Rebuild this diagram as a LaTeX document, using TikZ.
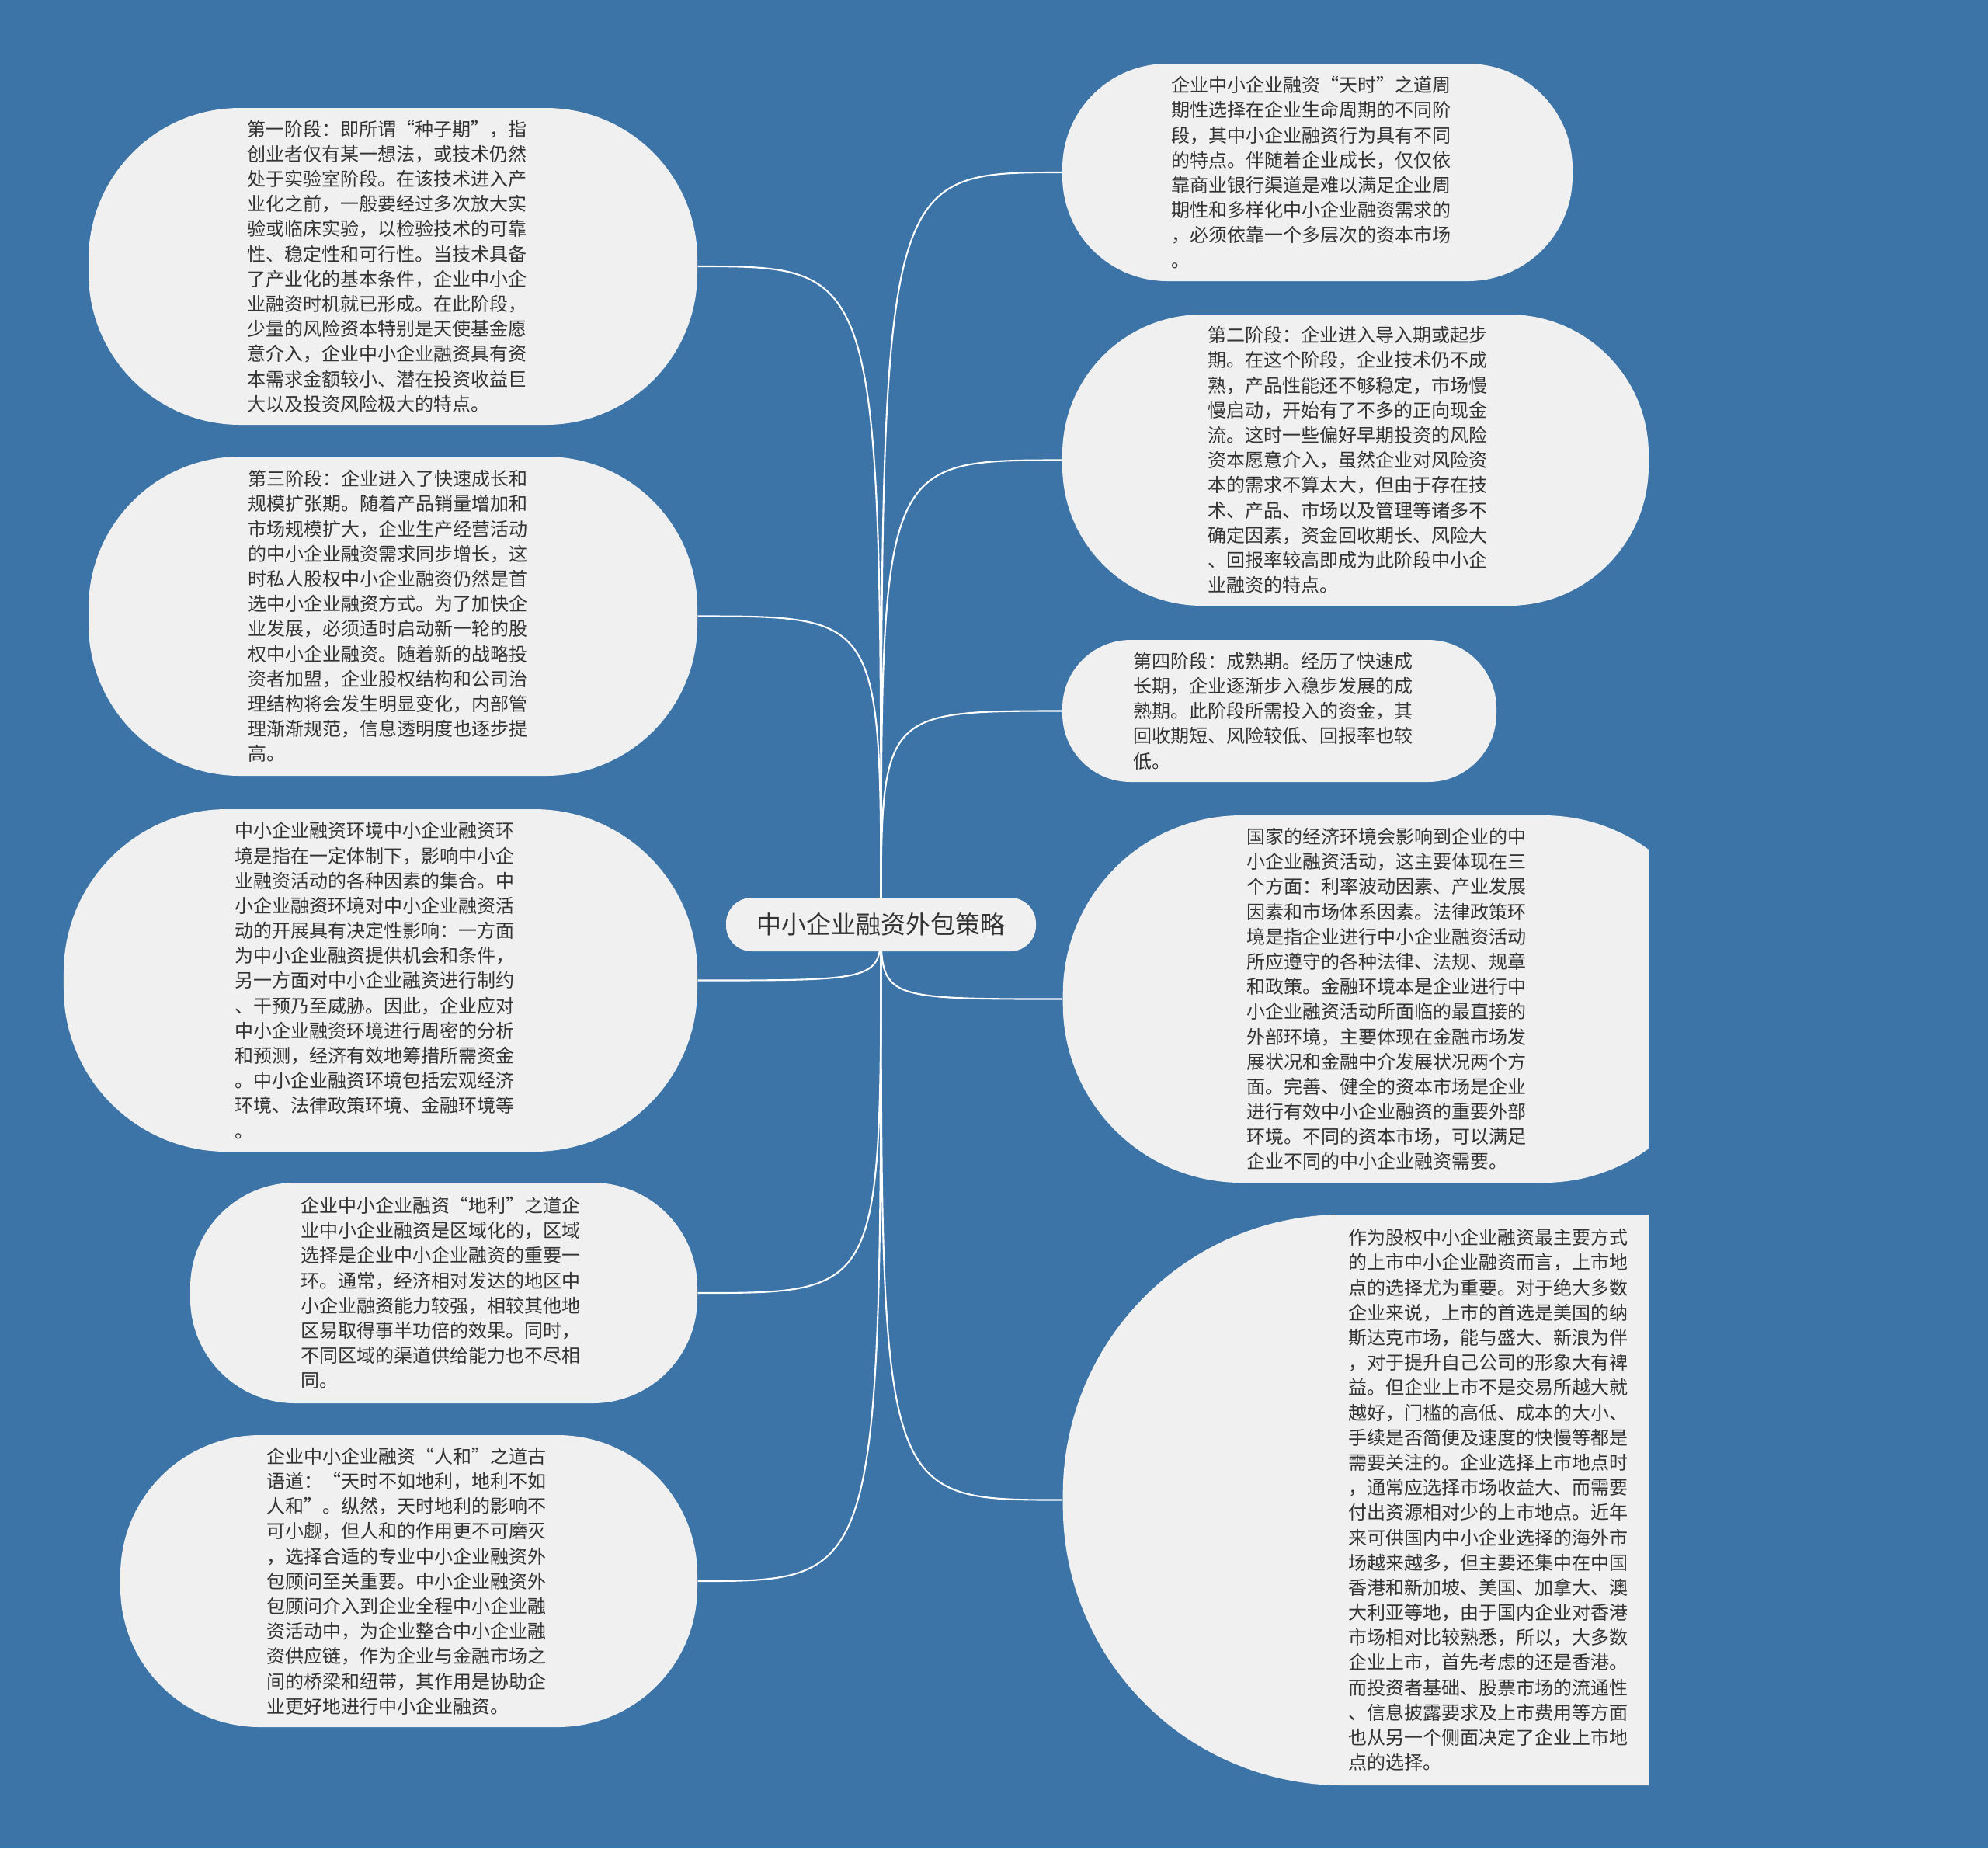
\documentclass[tikz,border=0pt]{standalone}
\usepackage{fontspec}
\setmainfont{Noto Sans CJK SC}
\definecolor{mapblue}{HTML}{3C74A8}
\definecolor{mapgray}{HTML}{F0F0F0}
\definecolor{mapink}{HTML}{333333}
\usepackage{tikz}
\usetikzlibrary{calc}
\pgfdeclarelayer{bg}
\pgfdeclarelayer{edges}
\pgfsetlayers{bg,edges,main}

\begin{document}
\begin{tikzpicture}[
  leaf/.style={fill=mapgray, text=mapink, align=left, inner ysep=0pt,
               font=\fontsize{6.83pt}{9.16pt}\selectfont},
  topic/.style={fill=mapgray, text=mapink, rounded corners=0.33cm,
                minimum width=3.99cm, minimum height=0.69cm,
                font=\fontsize{9.1pt}{11pt}\selectfont},
  link/.style={draw=white, line width=0.6pt},
]
  \useasboundingbox (0,0) rectangle (25.6,-23.8);
  \begin{pgfonlayer}{bg}
    \fill[mapblue] (0,0) rectangle (25.6,-23.8);
  \end{pgfonlayer}

  \node[topic] (topic) at (11.345,-11.905) {中小企业融资外包策略};

  % left side
  \node[leaf, text width=3.76cm, inner xsep=2.04cm, minimum height=4.08cm, rounded corners=1.95cm]
    (seed) at (5.06,-3.43) {第一阶段：即所谓“种子期”，指\\创业者仅有某一想法，或技术仍然\\处于实验室阶段。在该技术进入产\\业化之前，一般要经过多次放大实\\验或临床实验，以检验技术的可靠\\性、稳定性和可行性。当技术具备\\了产业化的基本条件，企业中小企\\业融资时机就已形成。在此阶段，\\少量的风险资本特别是天使基金愿\\意介入，企业中小企业融资具有资\\本需求金额较小、潜在投资收益巨\\大以及投资风险极大的特点。};
  \node[leaf, text width=3.73cm, inner xsep=2.055cm, minimum height=4.11cm, rounded corners=1.95cm]
    (growth) at (5.06,-7.935) {第三阶段：企业进入了快速成长和\\规模扩张期。随着产品销量增加和\\市场规模扩大，企业生产经营活动\\的中小企业融资需求同步增长，这\\时私人股权中小企业融资仍然是首\\选中小企业融资方式。为了加快企\\业发展，必须适时启动新一轮的股\\权中小企业融资。随着新的战略投\\资者加盟，企业股权结构和公司治\\理结构将会发生明显变化，内部管\\理渐渐规范，信息透明度也逐步提\\高。};
  \node[leaf, text width=3.75cm, inner xsep=2.205cm, minimum height=4.41cm, rounded corners=2.1cm]
    (envir) at (4.90,-12.625) {中小企业融资环境中小企业融资环\\境是指在一定体制下，影响中小企\\业融资活动的各种因素的集合。中\\小企业融资环境对中小企业融资活\\动的开展具有决定性影响：一方面\\为中小企业融资提供机会和条件，\\另一方面对中小企业融资进行制约\\、干预乃至威胁。因此，企业应对\\中小企业融资环境进行周密的分析\\和预测，经济有效地筹措所需资金\\。中小企业融资环境包括宏观经济\\环境、法律政策环境、金融环境等\\。};
  \node[leaf, text width=3.69cm, inner xsep=1.42cm, minimum height=2.84cm, rounded corners=1.35cm]
    (dili) at (5.715,-16.65) {企业中小企业融资“地利”之道企\\业中小企业融资是区域化的，区域\\选择是企业中小企业融资的重要一\\环。通常，经济相对发达的地区中\\小企业融资能力较强，相较其他地\\区易取得事半功倍的效果。同时，\\不同区域的渠道供给能力也不尽相\\同。};
  \node[leaf, text width=3.67cm, inner xsep=1.88cm, minimum height=3.76cm, rounded corners=1.8cm]
    (renhe) at (5.265,-20.36) {企业中小企业融资“人和”之道古\\语道：“天时不如地利，地利不如\\人和”。纵然，天时地利的影响不\\可小觑，但人和的作用更不可磨灭\\，选择合适的专业中小企业融资外\\包顾问至关重要。中小企业融资外\\包顾问介入到企业全程中小企业融\\资活动中，为企业整合中小企业融\\资供应链，作为企业与金融市场之\\间的桥梁和纽带，其作用是协助企\\业更好地进行中小企业融资。};

  % right side
  \node[leaf, text width=3.77cm, inner xsep=1.40cm, minimum height=2.80cm, rounded corners=1.35cm]
    (tianshi) at (16.965,-2.22) {企业中小企业融资“天时”之道周\\期性选择在企业生命周期的不同阶\\段，其中小企业融资行为具有不同\\的特点。伴随着企业成长，仅仅依\\靠商业银行渠道是难以满足企业周\\期性和多样化中小企业融资需求的\\，必须依靠一个多层次的资本市场\\。};
  \node[leaf, text width=3.80cm, inner xsep=1.875cm, minimum height=3.75cm, rounded corners=1.8cm]
    (startup) at (17.455,-5.925) {第二阶段：企业进入导入期或起步\\期。在这个阶段，企业技术仍不成\\熟，产品性能还不够稳定，市场慢\\慢启动，开始有了不多的正向现金\\流。这时一些偏好早期投资的风险\\资本愿意介入，虽然企业对风险资\\本的需求不算太大，但由于存在技\\术、产品、市场以及管理等诸多不\\确定因素，资金回收期长、风险大\\、回报率较高即成为此阶段中小企\\业融资的特点。};
  \node[leaf, text width=3.76cm, inner xsep=0.915cm, minimum height=1.83cm, rounded corners=0.88cm]
    (mature) at (16.475,-9.155) {第四阶段：成熟期。经历了快速成\\长期，企业逐渐步入稳步发展的成\\熟期。此阶段所需投入的资金，其\\回收期短、风险较低、回报率也较\\低。};
  % the two long ones are cut at the right
  \begin{scope}
    \clip (0,0) rectangle (21.23,-23.8);
    \node[leaf, anchor=west, text width=3.76cm, inner xsep=2.365cm, minimum height=4.73cm, rounded corners=2.3cm]
      (economy) at (13.68,-12.865) {国家的经济环境会影响到企业的中\\小企业融资活动，这主要体现在三\\个方面：利率波动因素、产业发展\\因素和市场体系因素。法律政策环\\境是指企业进行中小企业融资活动\\所应遵守的各种法律、法规、规章\\和政策。金融环境本是企业进行中\\小企业融资活动所面临的最直接的\\外部环境，主要体现在金融市场发\\展状况和金融中介发展状况两个方\\面。完善、健全的资本市场是企业\\进行有效中小企业融资的重要外部\\环境。不同的资本市场，可以满足\\企业不同的中小企业融资需要。};
    \node[leaf, anchor=west, text width=3.76cm, inner xsep=3.675cm, minimum height=7.35cm, rounded corners=3.6cm]
      (listing) at (13.68,-19.315) {作为股权中小企业融资最主要方式\\的上市中小企业融资而言，上市地\\点的选择尤为重要。对于绝大多数\\企业来说，上市的首选是美国的纳\\斯达克市场，能与盛大、新浪为伴\\，对于提升自己公司的形象大有裨\\益。但企业上市不是交易所越大就\\越好，门槛的高低、成本的大小、\\手续是否简便及速度的快慢等都是\\需要关注的。企业选择上市地点时\\，通常应选择市场收益大、而需要\\付出资源相对少的上市地点。近年\\来可供国内中小企业选择的海外市\\场越来越多，但主要还集中在中国\\香港和新加坡、美国、加拿大、澳\\大利亚等地，由于国内企业对香港\\市场相对比较熟悉，所以，大多数\\企业上市，首先考虑的还是香港。\\而投资者基础、股票市场的流通性\\、信息披露要求及上市费用等方面\\也从另一个侧面决定了企业上市地\\点的选择。};
  \end{scope}

  % Links
  \begin{pgfonlayer}{edges}
    \foreach \n in {seed,growth,envir,dili,renhe}
      \draw[link] (topic.center) .. controls (topic.center |- \n.east) .. (\n.east);
    \foreach \n in {tianshi,startup,mature,economy,listing}
      \draw[link] (topic.center) .. controls (topic.center |- \n.west) .. (\n.west);
  \end{pgfonlayer}
\end{tikzpicture}
\end{document}
